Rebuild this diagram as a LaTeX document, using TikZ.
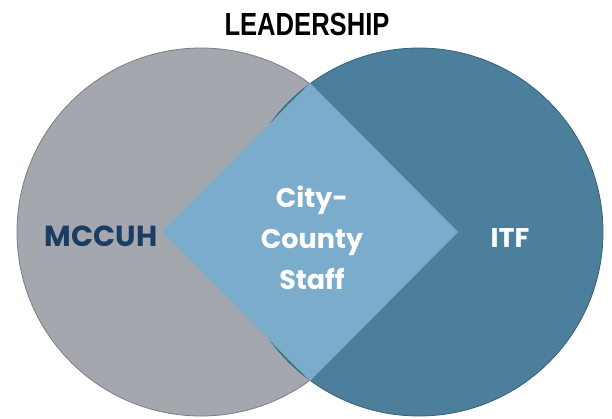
\documentclass[tikz,border=0pt]{standalone}
\usepackage{fontspec}
\setmainfont{Poppins}
\newfontfamily\headfont[FakeStretch=0.8]{Liberation Sans}
\definecolor{mccuhgray}{HTML}{A4A8AE}
\definecolor{itfblue}{HTML}{4B7F9B}
\definecolor{staffblue}{HTML}{7CACCC}
\definecolor{mccuhink}{HTML}{1C3D63}
\begin{document}
\begin{tikzpicture}[x=1pt,y=-1pt]
\tikzstyle{every node}+=[inner sep=0pt]
\tikzstyle{ring}=[circle, minimum size=368pt, line width=0.8pt]
\tikzstyle{vennlabel}=[font=\bfseries\fontsize{27}{41}\selectfont, align=center]
\useasboundingbox (0,0) rectangle (612,418);
\node [font=\headfont\bfseries\fontsize{32}{32}\selectfont] (title) at (307,24) {LEADERSHIP};
\node [ring, fill=mccuhgray, draw=mccuhgray!75!black] (mccuh) at (201,232) {};
\node [ring, fill=itfblue, draw=itfblue!75!black] (itf) at (419,232) {};
\coordinate (stafftop) at (310,83);
\coordinate (staffright) at (458,232);
\coordinate (staffbottom) at (310,381);
\coordinate (staffleft) at (162,232);
\fill [staffblue] (stafftop) -- (staffright) -- (staffbottom) -- (staffleft) -- cycle;
\node [vennlabel, text=mccuhink, font=\bfseries\fontsize{29}{41}\selectfont] (mccuhname) at (101,236) {MCCUH};
\node [vennlabel, text=white] (itfname) at (510,238) {ITF};
\node [vennlabel, text=white] (staffname) at (312,238) {City-\\County\\Staff};
\end{tikzpicture}
\end{document}
